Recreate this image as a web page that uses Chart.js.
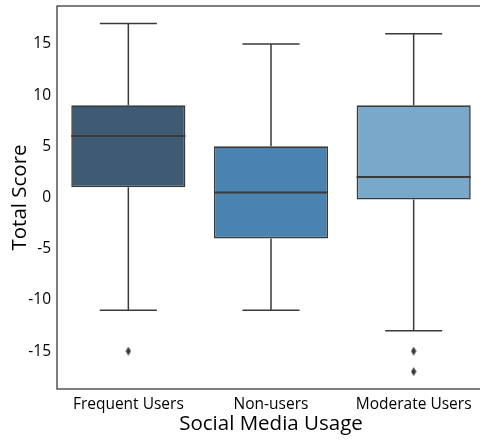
<!DOCTYPE html>
<html>
<head>
<meta charset="utf-8">
<script src="https://cdn.jsdelivr.net/npm/chart.js@4"></script>
<style>
html,body{margin:0;padding:0;overflow:hidden;background:#fff;}
#wrap{width:490px;height:440px;}
</style>
</head>
<body>
<div id="wrap"><canvas id="c" width="490" height="440"></canvas></div>
<script>
const categories = ['Frequent Users', 'Non-users', 'Moderate Users'];
const whiskerLow = [-11, -11, -13];
const q1 = [1, -4, -0.2];
const median = [6, 0.5, 2];
const q3 = [9, 5, 9];
const whiskerHigh = [17, 15, 16];
const outlierCategory = ['Frequent Users', 'Moderate Users', 'Moderate Users'];
const outlierValue = [-15, -15, -17];
const yTicks = [-15, -10, -5, 0, 5, 10, 15];
const boxColors = ['#3f5b73', '#4a83b0', '#7aa8cb'];
const lineColor = '#3a3a3a';

const diamond = document.createElement('canvas');
diamond.width = 6; diamond.height = 9;
(function(){
  const g = diamond.getContext('2d');
  g.fillStyle = lineColor;
  g.beginPath();
  g.moveTo(3, 0); g.lineTo(5.6, 4.5); g.lineTo(3, 9); g.lineTo(0.4, 4.5);
  g.closePath(); g.fill();
})();

const boxPlugin = {
  id: 'boxParts',
  beforeDatasetsDraw(chart) {
    const ctx = chart.ctx, y = chart.scales.y;
    const meta = chart.getDatasetMeta(0);
    ctx.save();
    ctx.strokeStyle = lineColor;
    ctx.lineWidth = 1.5;
    meta.data.forEach((bar, i) => {
      const cx = bar.x, half = bar.width * 0.25;
      const yl = y.getPixelForValue(whiskerLow[i]);
      const yh = y.getPixelForValue(whiskerHigh[i]);
      const y1 = y.getPixelForValue(q1[i]);
      const y3 = y.getPixelForValue(q3[i]);
      ctx.beginPath();
      ctx.moveTo(cx, y3); ctx.lineTo(cx, yh);
      ctx.moveTo(cx, y1); ctx.lineTo(cx, yl);
      ctx.moveTo(cx - half, yh); ctx.lineTo(cx + half, yh);
      ctx.moveTo(cx - half, yl); ctx.lineTo(cx + half, yl);
      ctx.stroke();
    });
    ctx.restore();
  },
  afterDatasetsDraw(chart) {
    const ctx = chart.ctx, y = chart.scales.y;
    const meta = chart.getDatasetMeta(0);
    ctx.save();
    ctx.strokeStyle = lineColor;
    ctx.lineWidth = 2;
    meta.data.forEach((bar, i) => {
      const ym = y.getPixelForValue(median[i]);
      ctx.beginPath();
      ctx.moveTo(bar.x - bar.width / 2, ym); ctx.lineTo(bar.x + bar.width / 2, ym);
      ctx.stroke();
    });
    const a = chart.chartArea;
    ctx.strokeStyle = '#333';
    ctx.lineWidth = 1.25;
    ctx.strokeRect(a.left, a.top, a.right - a.left, a.bottom - a.top);
    ctx.restore();
  }
};

new Chart(document.getElementById('c'), {
  data: {
    labels: categories,
    datasets: [
      {
        type: 'bar',
        data: categories.map((_, i) => [q1[i], q3[i]]),
        backgroundColor: boxColors,
        borderColor: lineColor,
        borderWidth: 1.6,
        borderSkipped: false,
        barPercentage: 0.8,
        categoryPercentage: 1,
        grouped: false,
        order: 2
      },
      {
        type: 'scatter',
        data: outlierCategory.map((c, i) => ({ x: c, y: outlierValue[i] })),
        pointStyle: diamond,
        order: 1
      }
    ]
  },
  options: {
    responsive: false,
    animation: false,
    layout: { padding: { top: 6, right: 5, left: 0, bottom: 0 } },
    plugins: { legend: { display: false }, tooltip: { enabled: false } },
    scales: {
      x: {
        type: 'category',
        offset: true,
        grid: { display: false, drawTicks: false },
        border: { display: false },
        ticks: { color: '#000', padding: 6, maxRotation: 0, font: { family: 'Open Sans', size: 15.5 } },
        title: { display: true, text: 'Social Media Usage', color: '#000', padding: { top: 0, bottom: 4 }, font: { family: 'Open Sans', size: 20.5 } },
        afterFit(s) { s.height = 51; s.paddingLeft = 0; s.paddingRight = 0; }
      },
      y: {
        min: -18.7,
        max: 18.7,
        grid: { display: false, drawTicks: false },
        border: { display: false },
        afterBuildTicks(s) { s.ticks = yTicks.map(v => ({ value: v })); },
        ticks: { color: '#000', padding: 6, font: { family: 'Open Sans', size: 15.5 } },
        title: { display: true, text: 'Total Score', color: '#000', padding: { top: 8, bottom: 0 }, font: { family: 'Open Sans', size: 20.5 } },
        afterFit(s) { s.width = 57; s.paddingTop = 0; s.paddingBottom = 0; }
      }
    }
  },
  plugins: [boxPlugin]
});
</script>
</body>
</html>
